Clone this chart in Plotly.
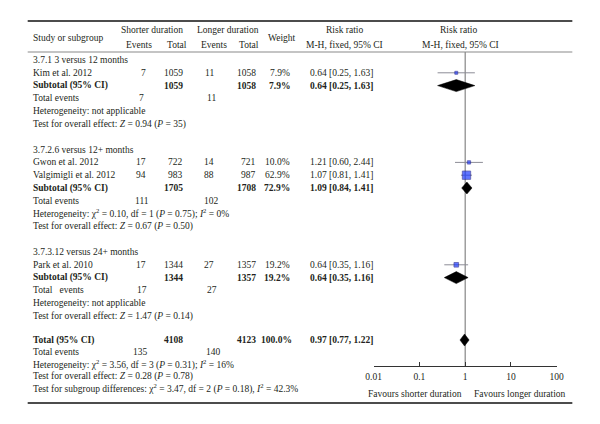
import math
import plotly.graph_objects as go

# ---------------- data ----------------
groups = ["3.7.1 3 versus 12 months", "3.7.2.6 versus 12+ months", "3.7.3.12 versus 24+ months"]

studies = ["Kim et al. 2012", "Gwon et al. 2012", "Valgimigli et al. 2012", "Park et al. 2010"]
study_group = [0, 1, 1, 2]
ev_short = [7, 17, 94, 17]
tot_short = [1059, 722, 983, 1344]
ev_long = [11, 14, 88, 27]
tot_long = [1058, 721, 987, 1357]
weight = [7.9, 10.0, 62.9, 19.2]
rr = [0.64, 1.21, 1.07, 0.64]
rr_lo = [0.25, 0.60, 0.81, 0.35]
rr_hi = [1.63, 2.44, 1.41, 1.16]

sub_tot_short = [1059, 1705, 1344]
sub_tot_long = [1058, 1708, 1357]
sub_weight = [7.9, 72.9, 19.2]
sub_rr = [0.64, 1.09, 0.64]
sub_lo = [0.25, 0.84, 0.35]
sub_hi = [1.63, 1.41, 1.16]
sub_ev_short = [7, 111, 17]
sub_ev_long = [11, 102, 27]
sub_het = ["Heterogeneity: not applicable",
           "Heterogeneity: χ<sup>2</sup> = 0.10, df = 1 (<i>P</i> = 0.75); <i>I</i><sup>2</sup> = 0%",
           "Heterogeneity: not applicable"]
sub_test = ["Test for overall effect: <i>Z</i> = 0.94 (<i>P</i> = 35)",
            "Test for overall effect: <i>Z</i> = 0.67 (<i>P</i> = 0.50)",
            "Test for overall effect: <i>Z</i> = 1.47 (<i>P</i> = 0.14)"]
sub_events_label = ["Total events", "Total events", "Total&nbsp;&nbsp; events"]

total_short = 4108
total_long = 4123
total_weight = 100.0
total_rr = 0.97
total_lo = 0.77
total_hi = 1.22
total_ev_short = 135
total_ev_long = 140
total_het = "Heterogeneity: χ<sup>2</sup> = 3.56, df = 3 (<i>P</i> = 0.31); <i>I</i><sup>2</sup> = 16%"
total_test = "Test for overall effect: <i>Z</i> = 0.28 (<i>P</i> = 0.78)"
subgroup_test = "Test for subgroup differences: χ<sup>2</sup> = 3.47, df = 2 (<i>P</i> = 0.18), <i>I</i><sup>2</sup> = 42.3%"

axis_ticks = [0.01, 0.1, 1, 10, 100]
axis_ticktext = ["0.01", "0.1", "1", "10", "100"]
favours_left = "Favours shorter duration"
favours_right = "Favours longer duration"

# ---------------- layout / styling ----------------
# page body has an 8px margin, so the figure is shrunk to fit the 600x424 window
OX, OY = 8, 8
W, H = 600 - 2 * OX, 424 - 2 * OY
FONT = "Liberation Serif"
FS = 9.5
TXT = "#231f20"

# column x positions (window pixels)
X_NAME = 23
X_EV_S = 143
X_TOT_S = 181
X_EV_L = 213
X_TOT_L = 256
X_W = 291
X_CI = 376

STEP = 12.8
annotations = []
shapes = []


def px(x):
    return (x - OX) / W


def add_text(text, x, y, anchor="left", bold=False, size=FS):
    if bold:
        text = "<b>" + text + "</b>"
    annotations.append(dict(text=text, x=px(x), y=y, xref="paper", yref="y",
                            xanchor=anchor, yanchor="middle", showarrow=False,
                            font=dict(family=FONT, size=size, color=TXT)))


def ci_text(a, b, c):
    return f"{a:.2f} [{b:.2f}, {c:.2f}]"


fig = go.Figure()

# headers
add_text("Study or subgroup", X_NAME, 38)
add_text("Shorter duration", 148, 30, "center")
add_text("Events", 134, 44.5, "center")
add_text("Total", 173, 44.5, "center")
add_text("Longer duration", 226, 30, "center")
add_text("Events", 211, 44.5, "center")
add_text("Total", 247, 44.5, "center")
add_text("Weight", 281, 38, "center")
add_text("Risk ratio", 345, 30, "center")
add_text("M-H, fixed, 95% CI", 345, 44.5, "center")
add_text("Risk ratio", 462, 30, "center")
add_text("M-H, fixed, 95% CI", 464, 44.5, "center")

diamond_half = 6
y = 60
study_y = {}
sub_y = []
for g, gname in enumerate(groups):
    add_text(gname, X_NAME, y)
    y += STEP
    for i, s in enumerate(studies):
        if study_group[i] != g:
            continue
        study_y[i] = y
        add_text(s, X_NAME, y)
        add_text(str(ev_short[i]), X_EV_S, y, "right")
        add_text(str(tot_short[i]), X_TOT_S, y, "right")
        add_text(str(ev_long[i]), X_EV_L, y, "right")
        add_text(str(tot_long[i]), X_TOT_L, y, "right")
        add_text(f"{weight[i]:.1f}%", X_W, y, "right")
        add_text(ci_text(rr[i], rr_lo[i], rr_hi[i]), X_CI, y, "right")
        y += STEP
    sub_y.append(y)
    add_text("Subtotal (95% CI)", X_NAME, y, bold=True)
    add_text(str(sub_tot_short[g]), X_TOT_S, y, "right", bold=True)
    add_text(str(sub_tot_long[g]), X_TOT_L, y, "right", bold=True)
    add_text(f"{sub_weight[g]:.1f}%", X_W, y, "right", bold=True)
    add_text(ci_text(sub_rr[g], sub_lo[g], sub_hi[g]), X_CI, y, "right", bold=True)
    y += STEP
    add_text(sub_events_label[g], X_NAME, y)
    add_text(str(sub_ev_short[g]), 137, y, "center")
    add_text(str(sub_ev_long[g]), 209, y, "center")
    y += STEP
    add_text(sub_het[g], X_NAME, y)
    y += STEP
    add_text(sub_test[g], X_NAME, y)
    y += 2 * STEP

# overall section
y_total = y - 2 * STEP + 24
add_text("Total (95% CI)", X_NAME, y_total, bold=True)
add_text(str(total_short), X_TOT_S, y_total, "right", bold=True)
add_text(str(total_long), X_TOT_L, y_total, "right", bold=True)
add_text(f"{total_weight:.1f}%", X_W + 2, y_total, "right", bold=True)
add_text(ci_text(total_rr, total_lo, total_hi), X_CI, y_total, "right", bold=True)
add_text("Total events", X_NAME, y_total + 12)
add_text(str(total_ev_short), 136, y_total + 12, "center")
add_text(str(total_ev_long), 211, y_total + 12, "center")
add_text(total_het, X_NAME, y_total + 24)
add_text(total_test, X_NAME, y_total + 36)
add_text(subgroup_test, X_NAME, y_total + 48)

# axis location (window pixels)
AXIS_Y = 366
AX_X0, AX_X1 = 375, 563

# CI whiskers and squares
for i in range(len(studies)):
    fig.add_trace(go.Scatter(x=[rr_lo[i], rr_hi[i]], y=[study_y[i], study_y[i]], mode="lines",
                             line=dict(color="#8c8c96", width=1), hoverinfo="skip", showlegend=False))
fig.add_trace(go.Scatter(
    x=rr, y=[study_y[i] for i in range(len(studies))], mode="markers",
    marker=dict(symbol="square", size=[1.05 * math.sqrt(w) for w in weight],
                color="#1e3cff", line=dict(color="#16168a", width=0.8)),
    showlegend=False, hoverinfo="skip"))


def diamond(est, lo, hi, yc):
    fig.add_trace(go.Scatter(x=[lo, est, hi, est, lo], y=[yc, yc - diamond_half, yc, yc + diamond_half, yc],
                             mode="lines", fill="toself", fillcolor="black",
                             line=dict(color="black", width=0.5), showlegend=False, hoverinfo="skip"))


for g in range(len(groups)):
    diamond(sub_rr[g], sub_lo[g], sub_hi[g], sub_y[g])
diamond(total_rr, total_lo, total_hi, y_total)

# reference line at 1
shapes.append(dict(type="line", xref="x", yref="y", x0=1, x1=1, y0=52, y1=AXIS_Y,
                   line=dict(color="#6e6e6e", width=1), layer="below"))
# table rules
shapes.append(dict(type="line", xref="paper", yref="y", x0=px(20), x1=px(579), y0=21, y1=21,
                   line=dict(color="#111", width=1.5)))
shapes.append(dict(type="line", xref="paper", yref="y", x0=px(20), x1=px(579), y0=52, y1=52,
                   line=dict(color="#8a8a8a", width=1.2)))
shapes.append(dict(type="line", xref="paper", yref="y", x0=px(20), x1=px(579), y0=403, y1=403,
                   line=dict(color="#111", width=1.5)))

# favours labels
annotations.append(dict(text=favours_left, x=px(468), y=394, xref="paper", yref="y", xanchor="right",
                        yanchor="middle", showarrow=False, font=dict(family=FONT, size=FS, color=TXT)))
annotations.append(dict(text=favours_right, x=px(476), y=394, xref="paper", yref="y", xanchor="left",
                        yanchor="middle", showarrow=False, font=dict(family=FONT, size=FS, color=TXT)))

fig.update_layout(
    width=W, height=H, margin=dict(l=0, r=0, t=0, b=0),
    paper_bgcolor="white", plot_bgcolor="rgba(0,0,0,0)",
    showlegend=False,
    xaxis=dict(type="log", range=[-2, 2], domain=[px(AX_X0), px(AX_X1)], anchor="free",
               position=1 - (AXIS_Y - OY) / H, showline=True, linecolor="#333", linewidth=1,
               ticks="inside", ticklen=4, tickcolor="#333", tickwidth=1,
               tickvals=axis_ticks, ticktext=axis_ticktext, showgrid=False, zeroline=False,
               tickfont=dict(family=FONT, size=FS, color=TXT), ticklabelstandoff=2),
    yaxis=dict(range=[OY + H, OY], domain=[0, 1], visible=False, showgrid=False, zeroline=False),
    annotations=annotations, shapes=shapes,
)

fig.write_html("out.html")
